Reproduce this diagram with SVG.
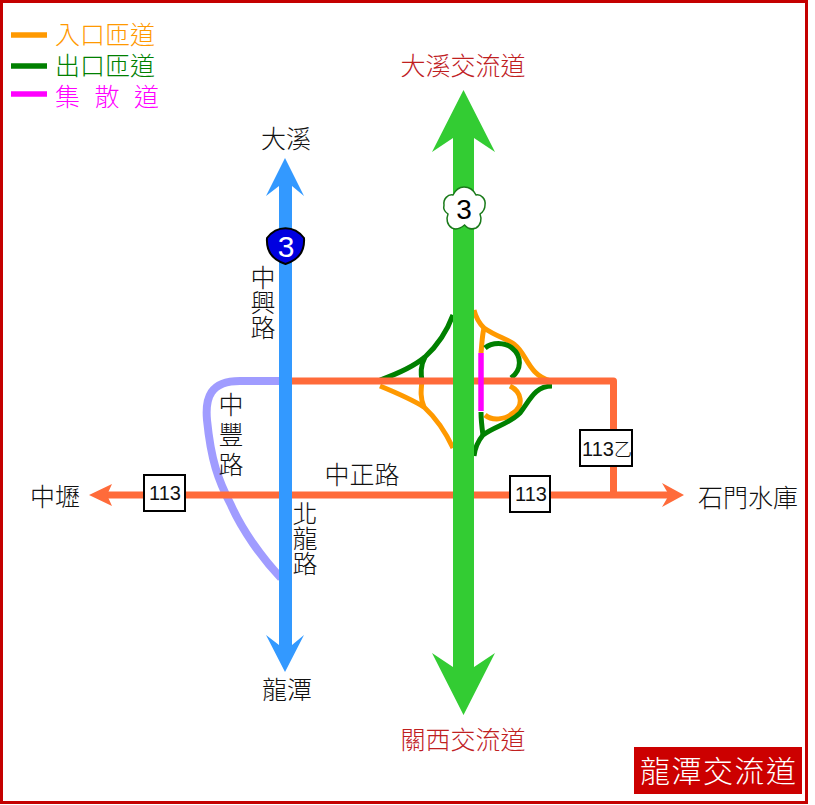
<svg xmlns="http://www.w3.org/2000/svg" width="815" height="805" viewBox="0 0 815 805">
<style>
text{font-family:"Noto Sans CJK TC","Noto Sans CJK SC",sans-serif;font-size:25px;fill:#111;font-weight:300}
.lat{font-family:"Liberation Sans",Arial,sans-serif;font-weight:400}
.mid{text-anchor:middle}
.v{writing-mode:vertical-rl}
.road{fill:none;stroke-linecap:butt;stroke-linejoin:round}
.on{fill:none;stroke:#ff9900;stroke-width:5}
.off{fill:none;stroke:#008000;stroke-width:5}
.box{fill:#fff;stroke:#000;stroke-width:2}
.red{fill:#c0201f}
</style>
<rect x="1.500" y="1.500" width="805" height="801" fill="#fff" stroke="#c40000" stroke-width="3"/>
<g id="legend">
<line x1="11" y1="35" x2="47" y2="35" stroke="#ff9900" stroke-width="5.500"/>
<line x1="11" y1="66" x2="47" y2="66" stroke="#008000" stroke-width="5.500"/>
<line x1="11" y1="94" x2="47" y2="94" stroke="#ff00ff" stroke-width="5.500"/>
<text x="55" y="44" style="fill:#ff9900">入口匝道</text>
<text x="55" y="75" style="fill:#008000">出口匝道</text>
<text x="55" y="106" style="fill:#ff00ff;word-spacing:9px">集 散 道</text>
</g>
<g id="connectors">
<path class="off" d="M453 315C447 331 437 346 425 357C413 367 397 374 380 380"/>
<path class="on" d="M380 386C397 393 411 399 424 407C437 419 446 433 453 448"/>
<path class="off" d="M425 357C420 366 421 374 422 381"/>
<path class="on" d="M422 381C421 390 420 398 424 407"/>
<path class="on" d="M474 310C476 318 479 323 484 328C497 337 508 339 515 345C527 354 528 375 551 381"/>
<path class="on" d="M484 328C482 336 482 344 481 353"/>
<path class="off" d="M485 348C492 342 505 342 512 348C522 356 522 370 511 378"/>
<path class="on" d="M510 386C522 392 524 406 513 413C505 420 492 421 485 415"/>
<path class="off" d="M552 386C535 386 530 400 520 413C509 424 495 426 483 435C478 441 475 448 474 456"/>
<path class="off" d="M481 412C481 420 482 428 483 435"/>
<path id="zhongfeng" class="road" stroke="#a09cff" stroke-width="8" d="M282 381H240C210 381 205 398 207 420C211 460 218 480 231 505C242 530 262 558 281 578"/>
<path class="road" stroke="#ff6b3a" stroke-width="7" d="M292 381H613.500V495"/>
<path class="road" stroke="#ff6b3a" stroke-width="7" d="M105 495H672"/>
<polygon fill="#ff6b3a" points="89,495 112,484 107,495 112,506"/>
<polygon fill="#ff6b3a" points="684,495 662,483 669,495 662,507"/>
<line x1="481" y1="353" x2="481" y2="411" stroke="#ff00ff" stroke-width="5.500"/>
<path fill="#3399ff" d="M285 158L304 196L292 186V645L304 635L285 672L266 635L279 645V186L266 196Z"/>
<path fill="#33cc33" d="M463.500 90L495 152L474 138V667L495 653L463.500 715L432 653L453 667V138L432 152Z"/>
</g>
<g id="shield-3">
<path fill="#0000e0" stroke="#000" stroke-width="2" d="M267 238C277 225 294 225 304 238C305 252 298 260 285.500 264C273 260 266 252 267 238Z"/>
<text class="lat mid" x="286" y="257" style="fill:#fff;font-size:30px">3</text>
</g>
<g id="shield-flower">
<path fill="#fff" stroke="#1a7a1a" stroke-width="1.500" d="M464 187C470 187 474 191 476 195C481 194 486 199 485 205C485 209 483 212 480 214C482 219 481 225 476 228C471 230 467 228 464.500 225C461 228 456 230 452 228C447 225 446 219 448 214C445 212 443 209 444 205C443 199 448 194 453 195C455 191 458 187 464 187Z"/>
<text class="lat mid" x="464" y="219" style="font-size:28px;fill:#000">3</text>
</g>
<g id="box-113-w"><rect class="box" x="144" y="475" width="41" height="36"/><text class="lat mid" x="165" y="500" style="font-size:20px">113</text></g>
<g id="box-113-e"><rect class="box" x="510" y="476" width="40" height="36"/><text class="lat mid" x="531" y="501" style="font-size:20px">113</text></g>
<g id="box-113b"><rect class="box" x="580" y="430" width="52" height="36"/><text class="lat" x="582" y="456" style="font-size:20px">113<tspan style="font-family:'Noto Sans CJK TC';font-weight:300;font-size:18px">乙</tspan></text></g>
<g id="labels">
<text class="mid" x="286" y="148">大溪</text>
<text class="mid" x="287" y="699">龍潭</text>
<text x="30" y="506">中壢</text>
<text x="698" y="507">石門水庫</text>
<text class="mid" x="362" y="484">中正路</text>
<text class="mid red" x="463" y="75">大溪交流道</text>
<text class="mid red" x="463" y="749">關西交流道</text>
<text class="v" x="263" y="265">中興路</text>
<text class="v" x="231" y="392" style="letter-spacing:5px">中豐路</text>
<text class="v" x="305" y="501">北龍路</text>
</g>
<g id="title"><rect x="634" y="747" width="168" height="47" fill="#cc0000"/><text x="640" y="782" style="fill:#fff;font-size:30px;letter-spacing:1.500px">龍潭交流道</text></g>
</svg>
